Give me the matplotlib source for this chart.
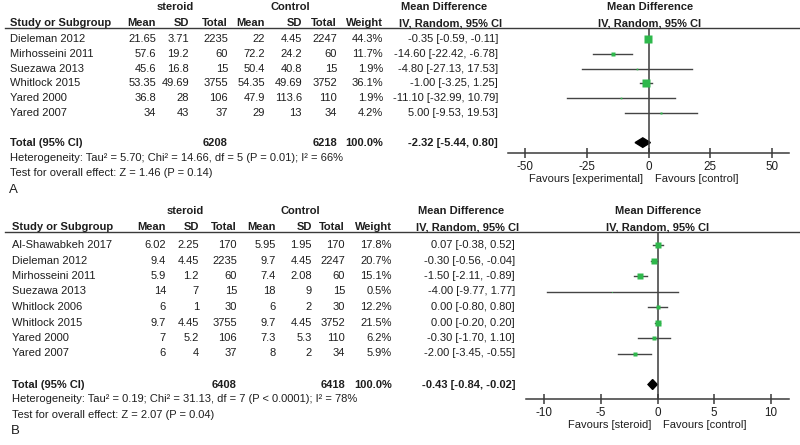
import matplotlib
matplotlib.use('Agg')
import matplotlib.pyplot as plt
from matplotlib.lines import Line2D
from matplotlib.patches import Polygon

plt.rcParams['font.family'] = ['Liberation Sans', 'DejaVu Sans']
plt.rcParams['axes.unicode_minus'] = False

# ---- panel A data
studies_a = ['Dieleman 2012', 'Mirhosseini 2011', 'Suezawa 2013',
             'Whitlock 2015', 'Yared 2000', 'Yared 2007']
ster_mean_a = [21.65, 57.6, 45.6, 53.35, 36.8, 34]
ster_sd_a = [3.71, 19.2, 16.8, 49.69, 28, 43]
ster_n_a = [2235, 60, 15, 3755, 106, 37]
ctrl_mean_a = [22, 72.2, 50.4, 54.35, 47.9, 29]
ctrl_sd_a = [4.45, 24.2, 40.8, 49.69, 113.6, 13]
ctrl_n_a = [2247, 60, 15, 3752, 110, 34]
weight_a = [44.3, 11.7, 1.9, 36.1, 1.9, 4.2]
md_a = [-0.35, -14.60, -4.80, -1.00, -11.10, 5.00]
lo_a = [-0.59, -22.42, -27.13, -3.25, -32.99, -9.53]
hi_a = [-0.11, -6.78, 17.53, 1.25, 10.79, 19.53]
total_a = [6208, 6218, -2.32, -5.44, 0.80]
ticks_a = [-50, -25, 0, 25, 50]
het_a = 'Heterogeneity: Tau² = 5.70; Chi² = 14.66, df = 5 (P = 0.01); I² = 66%'
test_a = 'Test for overall effect: Z = 1.46 (P = 0.14)'

# ---- panel B data
studies_b = ['Al-Shawabkeh 2017', 'Dieleman 2012', 'Mirhosseini 2011',
             'Suezawa 2013', 'Whitlock 2006', 'Whitlock 2015',
             'Yared 2000', 'Yared 2007']
ster_mean_b = [6.02, 9.4, 5.9, 14, 6, 9.7, 7, 6]
ster_sd_b = [2.25, 4.45, 1.2, 7, 1, 4.45, 5.2, 4]
ster_n_b = [170, 2235, 60, 15, 30, 3755, 106, 37]
ctrl_mean_b = [5.95, 9.7, 7.4, 18, 6, 9.7, 7.3, 8]
ctrl_sd_b = [1.95, 4.45, 2.08, 9, 2, 4.45, 5.3, 2]
ctrl_n_b = [170, 2247, 60, 15, 30, 3752, 110, 34]
weight_b = [17.8, 20.7, 15.1, 0.5, 12.2, 21.5, 6.2, 5.9]
md_b = [0.07, -0.30, -1.50, -4.00, 0.00, 0.00, -0.30, -2.00]
lo_b = [-0.38, -0.56, -2.11, -9.77, -0.80, -0.20, -1.70, -3.45]
hi_b = [0.52, -0.04, -0.89, 1.77, 0.80, 0.20, 1.10, -0.55]
total_b = [6408, 6418, -0.43, -0.84, -0.02]
ticks_b = [-10, -5, 0, 5, 10]
het_b = 'Heterogeneity: Tau² = 0.19; Chi² = 31.13, df = 7 (P < 0.0001); I² = 78%'
test_b = 'Test for overall effect: Z = 2.07 (P = 0.04)'

W, H = 800, 445
fig = plt.figure(figsize=(8, 4.45), dpi=100)
TXT = '#1e1e1e'
LN = '#3a3a3a'
GREEN = '#2fb84c'
FS = 8.0


def T(x, y, s, ha='left', bold=False, size=FS):
    fig.text(x / W, 1 - y / H, s, ha=ha, va='center', fontsize=size,
             color=TXT, fontweight='bold' if bold else 'normal')


def fmt(v):
    return '{:g}'.format(v)


def ci(m, l, h):
    return '%.2f [%.2f, %.2f]' % (m, l, h)


def panel(d, cols, rows, fx, letter):
    # cols: name, s_mean, s_sd, s_n, c_mean, c_sd, c_n, weight, md (right edges)
    # rows: (y of first row, row step, y header line, y axis line)
    y0, dy, yline, yaxis = rows
    ry = lambda i: y0 + dy * i
    n = len(d['studies'])
    # header
    T(cols[2] - 14, yline - 21, 'steroid', 'center', True)
    T(cols[5] - 12, yline - 21, 'Control', 'center', True)
    T(cols[8] - 97, yline - 21, 'Mean Difference', 'left', True)
    T(fx['hdr'], yline - 21, 'Mean Difference', 'center', True)
    hy = yline - 5
    T(cols[0], hy, 'Study or Subgroup', 'left', True)
    for x, s in zip(cols[1:8], ['Mean', 'SD', 'Total', 'Mean', 'SD', 'Total', 'Weight']):
        T(x, hy, s, 'right', True)
    T(cols[8] - 99, hy, 'IV, Random, 95% CI', 'left', True)
    T(fx['hdr'], hy, 'IV, Random, 95% CI', 'center', True)
    fig.add_artist(Line2D([5 / W, 1], [1 - yline / H] * 2, color=LN, lw=1))

    # study rows
    for i in range(n):
        y = ry(i)
        T(cols[0], y, d['studies'][i])
        vals = [fmt(d['sm'][i]), fmt(d['ss'][i]), str(d['sn'][i]),
                fmt(d['cm'][i]), fmt(d['cs'][i]), str(d['cn'][i]),
                '%.1f%%' % d['w'][i], ci(d['md'][i], d['lo'][i], d['hi'][i])]
        for x, s in zip(cols[1:], vals):
            T(x, y, s, 'right')
    tot = d['total']
    yt = ry(n + 1)
    T(cols[0], yt, 'Total (95% CI)', 'left', True)
    T(cols[3], yt, str(tot[0]), 'right', True)
    T(cols[6], yt, str(tot[1]), 'right', True)
    T(cols[7], yt, '100.0%', 'right', True)
    T(cols[8], yt, ci(tot[2], tot[3], tot[4]), 'right', True)
    T(cols[0], yt + 15, d['het'])
    T(cols[0], yt + 30, d['test'])
    T(cols[0] - 1, yt + 47, letter, size=9.5)

    # forest plot
    left, right = fx['x0'], fx['x1']
    ax = fig.add_axes([left / W, 1 - yaxis / H, (right - left) / W, (yaxis - yline) / H])
    ax.set_xlim(fx['lim'])
    ax.set_ylim((yaxis - y0) / dy, (yline - y0) / dy)
    ax.patch.set_alpha(0)
    for s in ['top', 'left', 'right']:
        ax.spines[s].set_visible(False)
    ax.spines['bottom'].set_color(LN)
    ax.spines['bottom'].set_linewidth(1.1)
    ax.axvline(0, color=LN, lw=1.1)
    ax.set_yticks([])
    ax.set_xticks(d['ticks'])
    ax.tick_params(axis='x', direction='inout', length=7, width=1.1, color=LN,
                   labelsize=FS + 0.4, labelcolor=TXT, pad=2)
    for i in range(n):
        ax.plot([d['lo'][i], d['hi'][i]], [i, i], color='#444444', lw=1)
        side = fx['k'] * d['w'][i] ** 0.5 * 0.72
        ax.plot(d['md'][i], i, marker='s', ms=side, color=GREEN, mec='none')
    m, l, h = tot[2], tot[3], tot[4]
    dh = 0.32
    ax.add_patch(Polygon([[l, n + 1], [m, n + 1 - dh], [h, n + 1], [m, n + 1 + dh]],
                         closed=True, color='black'))
    T(fx['zero'] - 6, yaxis + 26, fx['fav'], 'right')
    T(fx['zero'] + 6, yaxis + 26, 'Favours [control]', 'left')
    return ax


da = dict(studies=studies_a, sm=ster_mean_a, ss=ster_sd_a, sn=ster_n_a,
          cm=ctrl_mean_a, cs=ctrl_sd_a, cn=ctrl_n_a, w=weight_a, md=md_a,
          lo=lo_a, hi=hi_a, total=total_a, ticks=ticks_a, het=het_a, test=test_a)
db = dict(studies=studies_b, sm=ster_mean_b, ss=ster_sd_b, sn=ster_n_b,
          cm=ctrl_mean_b, cs=ctrl_sd_b, cn=ctrl_n_b, w=weight_b, md=md_b,
          lo=lo_b, hi=hi_b, total=total_b, ticks=ticks_b, het=het_b, test=test_b)

panel(da, [10, 156, 189, 228, 265, 302, 337, 383, 498],
      (39, 14.8, 28, 153),
      dict(x0=508, x1=789, lim=(-57, 57), hdr=650, k=1.2, zero=649,
           fav='Favours [experimental]'), 'A')
panel(db, [12, 166, 199, 237, 276, 312, 345, 392, 515],
      (245, 15.5, 232, 399),
      dict(x0=526, x1=789, lim=(-11.6, 11.6), hdr=658, k=1.3, zero=657,
           fav='Favours [steroid]'), 'B')

fig.savefig('out.png', dpi=100, facecolor='white')
